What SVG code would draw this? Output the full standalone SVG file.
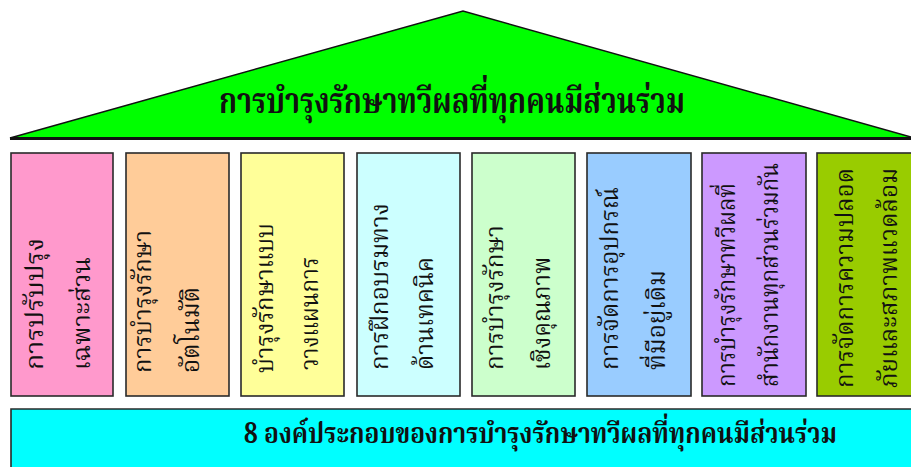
<svg xmlns="http://www.w3.org/2000/svg" width="911" height="467" viewBox="0 0 911 467">
<style>
.box{stroke:#2a2a2a;stroke-width:1.6}
.t{font-family:"Noto Serif Thai","Noto Sans Thai Looped","Noto Sans Thai","Tlwg Typo","Garuda","Loma",sans-serif;fill:#111}
.v{font-size:24px}
.h{font-weight:bold}
</style>
<rect width="911" height="467" fill="#ffffff"/>
<g id="roof">
<polygon points="10,138 463,11 911,137 911,138" fill="#00ff00" stroke="#111" stroke-width="1.5"/>
<line x1="10" y1="138.5" x2="911" y2="138.5" stroke="#111" stroke-width="3"/>
<text class="t h" x="219" y="113" font-size="36" textLength="466" lengthAdjust="spacingAndGlyphs">การบำรุงรักษาทวีผลที่ทุกคนมีส่วนร่วม</text>
</g>
<g id="pillar1">
<rect class="box" x="11" y="153" width="102" height="243" fill="#ff99cc"/>
<text class="t v" transform="translate(43,370) rotate(-90)" textLength="132" lengthAdjust="spacingAndGlyphs">การปรับปรุง</text>
<text class="t v" transform="translate(90,370) rotate(-90)" textLength="113" lengthAdjust="spacingAndGlyphs">เฉพาะส่วน</text>
</g>
<g id="pillar2">
<rect class="box" x="126" y="153" width="103" height="243" fill="#ffcc99"/>
<text class="t v" transform="translate(151,373) rotate(-90)" textLength="143" lengthAdjust="spacingAndGlyphs">การบำรุงรักษา</text>
<text class="t v" transform="translate(199,373) rotate(-90)" textLength="86" lengthAdjust="spacingAndGlyphs">อัตโนมัติ</text>
</g>
<g id="pillar3">
<rect class="box" x="241" y="153" width="103" height="243" fill="#ffff99"/>
<text class="t v" transform="translate(273,373) rotate(-90)" textLength="150" lengthAdjust="spacingAndGlyphs">บำรุงรักษาแบบ</text>
<text class="t v" transform="translate(318,370) rotate(-90)" textLength="113" lengthAdjust="spacingAndGlyphs">วางแผนการ</text>
</g>
<g id="pillar4">
<rect class="box" x="357" y="153" width="103" height="243" fill="#ccffff"/>
<text class="t v" transform="translate(388,370) rotate(-90)" textLength="167" lengthAdjust="spacingAndGlyphs">การฝึกอบรมทาง</text>
<text class="t v" transform="translate(433,370) rotate(-90)" textLength="113" lengthAdjust="spacingAndGlyphs">ด้านเทคนิค</text>
</g>
<g id="pillar5">
<rect class="box" x="472" y="153" width="103" height="243" fill="#ccffcc"/>
<text class="t v" transform="translate(503,370) rotate(-90)" textLength="145" lengthAdjust="spacingAndGlyphs">การบำรุงรักษา</text>
<text class="t v" transform="translate(550,370) rotate(-90)" textLength="113" lengthAdjust="spacingAndGlyphs">เชิงคุณภาพ</text>
</g>
<g id="pillar6">
<rect class="box" x="587" y="153" width="104" height="243" fill="#99ccff"/>
<text class="t v" transform="translate(618,370) rotate(-90)" textLength="183" lengthAdjust="spacingAndGlyphs">การจัดการอุปกรณ์</text>
<text class="t v" transform="translate(665,370) rotate(-90)" textLength="100" lengthAdjust="spacingAndGlyphs">ที่มีอยู่เดิม</text>
</g>
<g id="pillar7">
<rect class="box" x="702" y="153" width="104" height="243" fill="#cc99ff"/>
<text class="t v" transform="translate(735,387) rotate(-90)" textLength="204" lengthAdjust="spacingAndGlyphs">การบำรุงรักษาทวีผลที่</text>
<text class="t v" transform="translate(778,387) rotate(-90)" textLength="224" lengthAdjust="spacingAndGlyphs">สำนักงานทุกส่วนร่วมกัน</text>
</g>
<g id="pillar8">
<rect class="box" x="817" y="153" width="100" height="243" fill="#99cc00"/>
<text class="t v" transform="translate(853,388) rotate(-90)" textLength="220" lengthAdjust="spacingAndGlyphs">การจัดการความปลอด</text>
<text class="t v" transform="translate(897,388) rotate(-90)" textLength="220" lengthAdjust="spacingAndGlyphs">ภัยและสภาพแวดล้อม</text>
</g>
<g id="base">
<rect x="11" y="409" width="900" height="58" fill="#00ffff"/>
<path d="M11,467 V409 H911" fill="none" stroke="#2a2a2a" stroke-width="1.6"/>
<text class="t h" x="244" y="443" font-size="28" textLength="593" lengthAdjust="spacingAndGlyphs">8 องค์ประกอบของการบำรุงรักษาทวีผลที่ทุกคนมีส่วนร่วม</text>
</g>
<g id="connectors"></g>
</svg>
